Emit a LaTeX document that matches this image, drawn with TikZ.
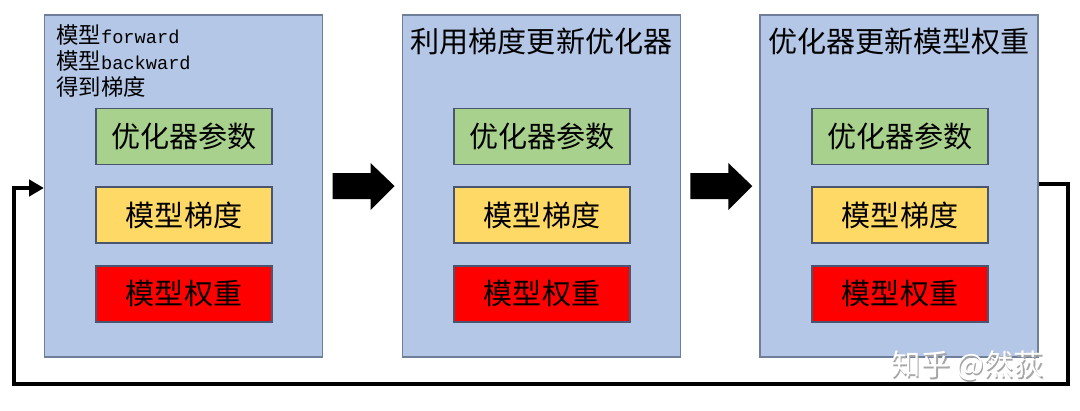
\documentclass[tikz,border=0pt]{standalone}
\usepackage{fontspec}
\setmainfont{Noto Sans CJK SC}
\newfontfamily\cjk{Noto Sans CJK SC}
\newfontfamily\latmono{Liberation Mono}
\usetikzlibrary{arrows.meta,calc}
\definecolor{bigfill}{HTML}{B4C7E7}
\definecolor{bigdraw}{HTML}{6F7F99}
\definecolor{gfill}{HTML}{A9D18E}
\definecolor{yfill}{HTML}{FFD966}
\definecolor{rfill}{HTML}{FF0000}
\definecolor{innerdraw}{HTML}{4A5670}
\tikzset{
  bigbox/.style={draw=bigdraw, fill=bigfill, line width=0.9pt, minimum width=208.5pt, minimum height=256.5pt, inner sep=0pt},
  innerbox/.style={draw=innerdraw, line width=0.8pt, minimum width=132pt, minimum height=42pt, inner sep=0pt, font=\cjk\fontsize{21.8}{24}\selectfont},
  titletext/.style={font=\cjk\fontsize{21.8}{24}\selectfont, inner sep=0pt},
  blockarrow/.style={fill=black},
  loopline/.style={line width=3pt, -{Triangle[length=11pt,width=12pt]}},
}
\begin{document}
\begin{tikzpicture}[x=0.75pt,y=-0.75pt]
\useasboundingbox (0,0) rectangle (1080,410);
% big boxes
\node[bigbox] (b1) at (183.5,186) {};
\node[bigbox] (b2) at (541.5,186) {};
\node[bigbox] (b3) at (899,186) {};
% inner boxes
\foreach \b/\x in {1/184,2/542,3/900}{
  \node[innerbox, fill=gfill] (g\b) at (\x,136.5) {优化器参数};
  \node[innerbox, fill=yfill] (y\b) at (\x,215) {模型梯度};
  \node[innerbox, fill=rfill] (r\b) at (\x,294) {模型权重};
}
% texts
\node[anchor=north west, align=left, inner sep=0pt, font=\cjk\fontsize{16.8}{19.5}\selectfont] (t1) at (56,24)
  {模型{\latmono\fontsize{14}{19.5}\selectfont forward}\\模型{\latmono\fontsize{14}{19.5}\selectfont backward}\\得到梯度};
\node[titletext] (t2) at (541.5,41) {利用梯度更新优化器};
\node[titletext] (t3) at (899,41) {优化器更新模型权重};
% block arrows
\coordinate (a1) at ($(b1.east)!0.5!(b2.west)$);
\coordinate (a2) at ($(b2.east)!0.5!(b3.west)$);
\foreach \a in {a1,a2}{
  \fill[blockarrow] ($(\a)+(-30,-13)$) -- ($(\a)+(8,-13)$) -- ($(\a)+(8,-23)$) -- ($(\a)+(32,0)$)
     -- ($(\a)+(8,24)$) -- ($(\a)+(8,13)$) -- ($(\a)+(-30,13)$) -- cycle;
}
% feedback loop
\coordinate (lr) at (1068,384);
\coordinate (ll) at (14,384);
\draw[loopline] ([yshift=1.5pt]b3.east) -| (lr) -- (ll) |- ([yshift=-1.5pt]b1.west);
% watermark
\node[font=\cjk\fontsize{22}{24}\selectfont, text=gray!70, inner sep=0pt] (wms) at (968.5,367.5) {知乎 @然荻};
\node[font=\cjk\fontsize{22}{24}\selectfont, text=white, inner sep=0pt] (wm) at (967,366) {知乎 @然荻};
\end{tikzpicture}
\end{document}
